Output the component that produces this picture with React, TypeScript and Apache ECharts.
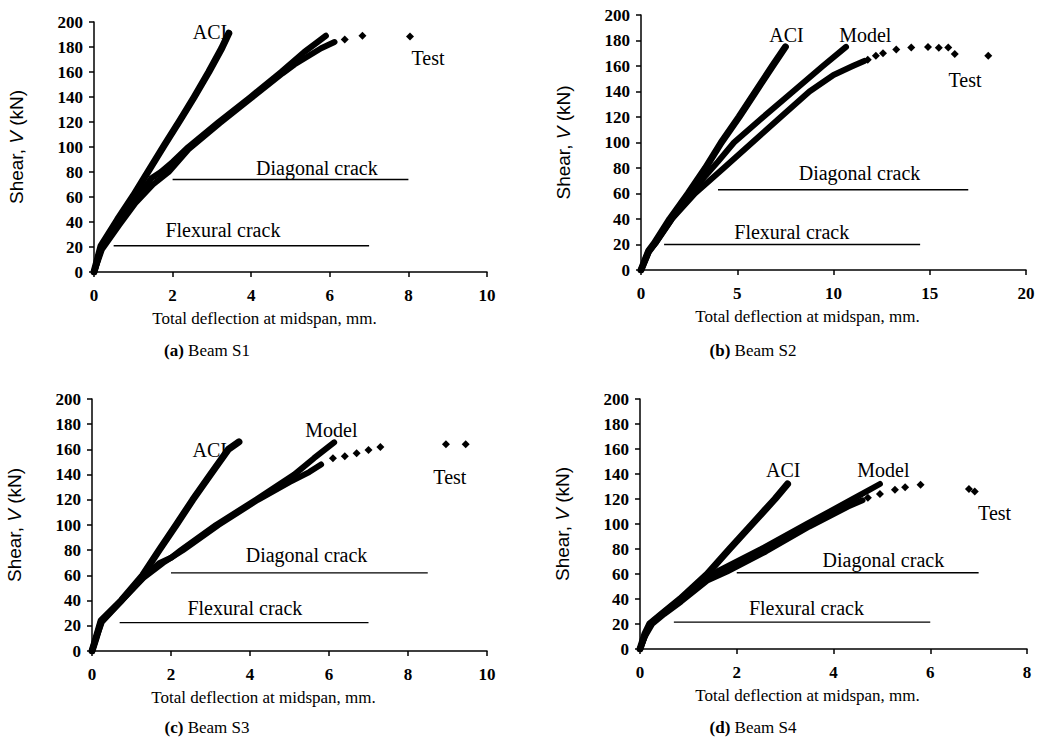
import React, { useEffect, useRef } from "react";
import * as echarts from "echarts";

// ---------- Data (deflection mm, shear kN) ----------
// Beam S1
const aciS1 = [[0, 0], [0.18, 21], [0.6, 42], [1.0, 61], [1.37, 80], [1.8, 102], [2.2, 122], [2.55, 140], [2.92, 160], [3.25, 179], [3.43, 191]];
const modelS1 = [[0, 0], [0.2, 20], [0.6, 38], [1.0, 55], [1.46, 75], [1.7, 80], [2.0, 88], [2.4, 100], [3.17, 120], [3.98, 140], [4.76, 160], [5.35, 176], [5.69, 184], [5.9, 189]];
const testS1 = [[0, 0], [0.2, 18], [0.65, 38], [1.05, 55], [1.5, 70], [1.9, 80], [2.4, 98], [3.2, 119], [4.0, 139], [4.8, 159], [5.1, 166], [5.78, 179], [6.12, 184]];
const testTailS1 = [[6.38, 186], [6.83, 189], [8.04, 188.5]];
const flexS1 = [[0.5, 21], [7, 21]];
const diagS1 = [[2, 74], [8, 74]];

// Beam S2
const aciS2 = [[0, 0], [0.4, 15], [0.7, 21], [1.5, 40], [2.45, 60], [3.35, 80], [4.17, 100], [5.09, 120], [5.96, 140], [6.83, 160], [7.5, 175]];
const modelS2 = [[0, 0], [0.4, 15], [0.8, 22], [1.6, 40], [2.6, 60], [3.35, 74], [4.0, 85], [4.83, 100], [6.35, 120], [7.9, 140], [9.45, 160], [10.65, 175]];
const testS2 = [[0, 0], [0.4, 14], [0.8, 22], [1.6, 40], [2.8, 60], [4.3, 80], [5.78, 100], [7.26, 120], [8.75, 140], [10.0, 153], [11.0, 160], [11.6, 164]];
const testTailS2 = [[11.78, 165], [12.2, 168], [12.57, 170], [13.26, 173], [14.04, 174.6], [14.91, 175], [15.47, 174.3], [15.96, 174.6], [16.3, 169.5], [18.04, 168]];
const flexS2 = [[1.2, 20], [14.5, 20]];
const diagS2 = [[4, 63], [17, 63]];

// Beam S3
const aciS3 = [[0, 0], [0.1, 10], [0.23, 24], [0.74, 40], [1.28, 60], [1.7, 80], [2.13, 100], [2.55, 120], [3.0, 140], [3.45, 160], [3.72, 166]];
const modelS3 = [[0, 0], [0.1, 10], [0.23, 24], [0.74, 40], [1.28, 58], [1.7, 69.7], [2.0, 74], [2.25, 80], [3.14, 100], [4.15, 120], [5.12, 140], [5.62, 153], [6.13, 165.5]];
const testS3 = [[0, 0], [0.1, 10], [0.25, 23], [0.75, 40], [1.3, 58], [1.8, 70], [2.3, 80], [3.2, 100], [4.2, 120], [5.0, 134], [5.5, 142], [5.8, 148]];
const testTailS3 = [[6.1, 153], [6.4, 154.5], [6.7, 157], [7.0, 159.5], [7.3, 162], [8.96, 164], [9.46, 164]];
const flexS3 = [[0.7, 22.5], [7, 22.5]];
const diagS3 = [[2, 62], [8.5, 62]];

// Beam S4
const aciS4 = [[0, 0], [0.1, 12], [0.2, 20], [0.45, 28], [0.83, 40], [1.39, 60], [1.85, 80], [2.32, 100], [2.79, 120], [3.05, 132]];
const modelS4 = [[0, 0], [0.1, 10], [0.2, 20], [0.45, 28], [0.83, 40], [1.3, 55], [1.6, 62], [2.51, 80], [3.45, 100], [4.4, 120], [4.96, 132]];
const testS4 = [[0, 0], [0.1, 10], [0.25, 20], [0.5, 28], [0.85, 38], [1.4, 55], [1.8, 62], [2.6, 78], [3.5, 98], [4.3, 114], [4.6, 119]];
const testTailS4 = [[4.71, 121], [4.96, 124], [5.27, 127.5], [5.48, 129.5], [5.8, 131.5], [6.8, 128], [6.92, 126]];
const flexS4 = [[0.7, 21.5], [6, 21.5]];
const diagS4 = [[2, 61], [7, 61]];

// Axis ticks
const yMax = 200;
const yStep = 20;
const xMaxes = [10, 20, 10, 8];
const xSteps = [2, 5, 2, 2];
const captions = ["(a)|Beam S1", "(b)|Beam S2", "(c)|Beam S3", "(d)|Beam S4"];

const SERIF = "'Liberation Serif', 'Times New Roman', serif";
const SANS = "'Liberation Sans', Arial, sans-serif";
const INK = "#000";

const panels = [
  {
    grid: { left: 94, top: 22, width: 393, height: 250 },
    aci: aciS1, model: modelS1, test: testS1, tail: testTailS1, flex: flexS1, diag: diagS1,
    labels: [
      { t: "ACI", p: [2.95, 192] }, { t: "Model", p: [5.93, 203] }, { t: "Test", p: [8.5, 171] },
      { t: "Diagonal crack", p: [5.67, 83] }, { t: "Flexural crack", p: [3.28, 34] },
    ],
    caption: { x: 207, y: 350 },
  },
  {
    grid: { left: 641, top: 15, width: 385, height: 255 },
    aci: aciS2, model: modelS2, test: testS2, tail: testTailS2, flex: flexS2, diag: diagS2,
    labels: [
      { t: "ACI", p: [7.56, 184] }, { t: "Model", p: [11.65, 184] }, { t: "Test", p: [16.83, 149] },
      { t: "Diagonal crack", p: [11.35, 75.8] }, { t: "Flexural crack", p: [7.83, 30] },
    ],
    caption: { x: 753, y: 350 },
  },
  {
    grid: { left: 92, top: 399, width: 395, height: 252 },
    aci: aciS3, model: modelS3, test: testS3, tail: testTailS3, flex: flexS3, diag: diagS3,
    labels: [
      { t: "ACI", p: [2.98, 159.5] }, { t: "Model", p: [6.06, 175.4] }, { t: "Test", p: [9.06, 138.3] },
      { t: "Diagonal crack", p: [5.43, 76.2] }, { t: "Flexural crack", p: [3.87, 33.9] },
    ],
    caption: { x: 207, y: 727 },
  },
  {
    grid: { left: 640, top: 399, width: 387, height: 250 },
    aci: aciS4, model: modelS4, test: testS4, tail: testTailS4, flex: flexS4, diag: diagS4,
    labels: [
      { t: "ACI", p: [2.96, 143.2] }, { t: "Model", p: [5.03, 143.2] }, { t: "Test", p: [7.33, 108.6] },
      { t: "Diagonal crack", p: [5.03, 71.2] }, { t: "Flexural crack", p: [3.44, 32.6] },
    ],
    caption: { x: 753, y: 727 },
  },
];

function buildOption() {
  const grids: any[] = [];
  const xAxes: any[] = [];
  const yAxes: any[] = [];
  const series: any[] = [];
  const graphics: any[] = [];

  panels.forEach((p, i) => {
    grids.push({ ...p.grid, containLabel: false, outerBoundsMode: "none" });
    xAxes.push({
      type: "value",
      gridIndex: i,
      min: 0,
      max: xMaxes[i],
      interval: xSteps[i],
      splitLine: { show: false },
      axisLine: { show: true, onZero: false, lineStyle: { color: INK, width: 1.5 } },
      axisTick: { show: true, inside: false, length: 5, lineStyle: { color: INK, width: 1.5 } },
      axisLabel: { margin: 15, color: INK, fontFamily: SERIF, fontSize: 17, fontWeight: "bold" },
      name: "Total deflection at midspan, mm.",
      nameLocation: "middle",
      nameGap: 38,
      nameTextStyle: { fontFamily: SERIF, fontSize: 17, color: INK, padding: [0, 52, 0, 0] },
    });
    yAxes.push({
      type: "value",
      gridIndex: i,
      min: 0,
      max: yMax,
      interval: yStep,
      splitLine: { show: false },
      axisLine: { show: true, onZero: false, lineStyle: { color: INK, width: 1.5 } },
      axisTick: { show: true, inside: false, length: 5, lineStyle: { color: INK, width: 1.5 } },
      axisLabel: { margin: 11, color: INK, fontFamily: SERIF, fontSize: 17, fontWeight: "bold" },
      name: "Shear, {i|V} (kN)",
      nameLocation: "middle",
      nameGap: 68,
      nameTextStyle: {
        fontFamily: SANS, fontSize: 19, color: INK,
        rich: { i: { fontFamily: SANS, fontSize: 19, fontStyle: "italic", color: INK } },
      },
    });

    const common = { xAxisIndex: i, yAxisIndex: i, animation: false };
    series.push({
      ...common, type: "line", name: "ACI", data: p.aci, symbol: "none",
      lineStyle: { color: INK, width: 7, cap: "round", join: "round" }, z: 3,
    });
    series.push({
      ...common, type: "line", name: "Test", data: p.test, symbol: "none",
      lineStyle: { color: INK, width: 6, cap: "round", join: "round" }, z: 3,
    });
    series.push({
      ...common, type: "scatter", name: "Test", data: p.tail, symbol: "diamond", symbolSize: 8,
      itemStyle: { color: INK, opacity: 1 }, z: 4,
    });
    series.push({
      ...common, type: "line", name: "Model", data: p.model, symbol: "none",
      lineStyle: { color: INK, width: 6, cap: "round", join: "round" }, z: 5,
    });
    series.push({
      ...common, type: "line", name: "Flexural crack", data: p.flex, symbol: "none",
      lineStyle: { color: INK, width: 1.4 }, z: 2,
    });
    series.push({
      ...common, type: "line", name: "Diagonal crack", data: p.diag, symbol: "none",
      lineStyle: { color: INK, width: 1.4 }, z: 2,
    });
    series.push({
      ...common, type: "scatter", name: "annotations", silent: true, symbolSize: 0,
      itemStyle: { opacity: 1 },
      data: p.labels.map((l) => ({ name: l.t, value: l.p })),
      label: {
        show: true, position: "inside", formatter: "{b}",
        fontFamily: SERIF, fontSize: 20, color: INK, opacity: 1,
      },
      z: 6,
    });

    const [tag, rest] = captions[i].split("|");
    graphics.push({
      type: "text",
      x: p.caption.x,
      y: p.caption.y,
      style: {
        text: `{b|${tag}} ${rest}`,
        align: "center",
        verticalAlign: "middle",
        font: `17px ${SERIF}`,
        fill: INK,
        rich: { b: { fontFamily: SERIF, fontSize: 17, fontWeight: "bold", fill: INK } },
      },
    });
  });

  return {
    animation: false,
    backgroundColor: "#fff",
    grid: grids,
    xAxis: xAxes,
    yAxis: yAxes,
    series,
    graphic: graphics,
  };
}

export default function App() {
  const ref = useRef<HTMLDivElement>(null);
  useEffect(() => {
    if (!ref.current) return;
    const chart = echarts.init(ref.current, undefined, { renderer: "svg" });
    chart.setOption(buildOption() as any);
    return () => chart.dispose();
  }, []);
  return (
    <div
      ref={ref}
      style={{ position: "absolute", left: 0, top: 0, width: 1042, height: 754, background: "#fff" }}
    />
  );
}
